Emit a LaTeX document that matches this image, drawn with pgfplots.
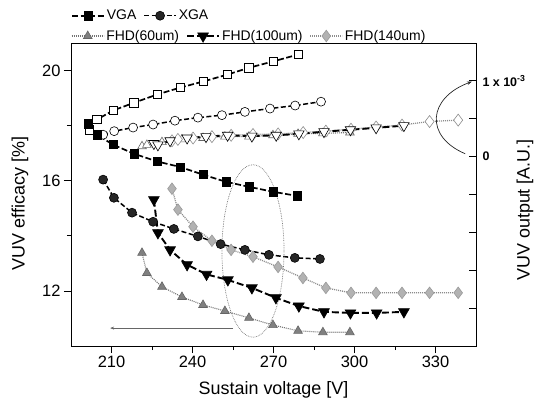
\documentclass[border=0pt]{standalone}
\usepackage{fontspec}
\setmainfont{Liberation Sans}
\usepackage{pgfplots}
\pgfplotsset{compat=1.18}
\usetikzlibrary{arrows.meta}

\pgfplotsset{
  vga/.style={black, line width=1.7bp, dash pattern=on 6bp off 2.5bp, mark=square*, mark size=4.1bp,
    mark options={solid, fill=black, draw=black, line width=0.6bp}},
  vgao/.style={black, line width=1.7bp, dash pattern=on 6bp off 2.5bp, mark=square*, mark size=4.1bp,
    mark options={solid, fill=white, draw=black, line width=0.7bp}},
  xga/.style={black, line width=1.5bp, dash pattern=on 5bp off 2.5bp, mark=*, mark size=4.5bp,
    mark options={solid, fill=black!85, draw=black, line width=0.6bp}},
  xgao/.style={black, line width=1.5bp, dash pattern=on 5bp off 2.5bp, mark=*, mark size=4.5bp,
    mark options={solid, fill=white, draw=black, line width=0.6bp}},
  fhdsixty/.style={black!55, line width=1.1bp, dash pattern=on 1bp off 1bp, mark=triangle*, mark size=5bp,
    mark options={solid, fill=black!50, draw=black!60, line width=0.6bp}},
  fhdsixtyo/.style={black!55, line width=1.1bp, dash pattern=on 1bp off 1bp, mark=triangle*, mark size=5bp,
    mark options={solid, fill=white, draw=black!60, line width=0.6bp}},
  fhdhund/.style={black, line width=1.9bp, dash pattern=on 7bp off 3bp, mark=triangle*, mark size=6.2bp,
    mark options={solid, rotate=180, fill=black, draw=black, line width=0.6bp}},
  fhdhundo/.style={black, line width=1.9bp, dash pattern=on 7bp off 3bp, mark=triangle*, mark size=6bp,
    mark options={solid, rotate=180, fill=white, draw=black, line width=0.6bp}},
  fhdforty/.style={black!45, line width=1.3bp, dash pattern=on 1bp off 1bp, mark=diamond*, mark size=5.8bp,
    mark options={solid, fill=black!30, draw=black!40, line width=0.6bp}},
  fhdfortyo/.style={black!45, line width=1.3bp, dash pattern=on 1bp off 1bp, mark=diamond*, mark size=6bp,
    mark options={solid, fill=white, draw=black!45, line width=0.6bp}},
  mylegend/.style={
    legend style={draw=none, fill=none, inner sep=0pt, anchor=west,
      font=\fontsize{14}{16}\selectfont,
      /tikz/every even column/.append style={column sep=5bp}},
    legend cell align=left,
    legend image code/.code={\draw[mark repeat=2,mark phase=2,##1] plot coordinates {(0bp,0bp) (16bp,0bp) (32bp,0bp)};}
  }
}

\begin{document}
\begin{tikzpicture}
\begin{axis}[
  at={(0,0)}, anchor=south west,
  scale only axis, width=405bp, height=303bp,
  xmin=195, xmax=345, ymin=10, ymax=21,
  xtick={210,240,...,330}, minor xtick={225,255,...,315},
  ytick={12,16,20}, minor ytick={14,18},
  xtick pos=left, ytick pos=left,
  tick align=outside,
  major tick length=7bp, minor tick length=4bp,
  every tick/.style={black, line width=0.8bp},
  axis line style={line width=0.9bp},
  tick label style={font=\fontsize{16.5}{19}\selectfont},
  /pgf/number format/assume math mode=true,
  xlabel={Sustain voltage [V]}, ylabel={VUV efficacy [\%]},
  label style={font=\fontsize{18}{21}\selectfont},
  xlabel style={at={(axis description cs:0.5,-0.145)}, anchor=center},
  ylabel style={at={(axis description cs:-0.126,0.47)}, anchor=center},
  mylegend,
  legend columns=3,
  legend style={at={(axis description cs:0.0,1.023)}},
]
% filled: VUV efficacy
\addplot[fhdsixty] coordinates {(221.3,13.38) (223.1,12.65) (228.7,12.15) (236.1,11.78) (243.9,11.49) (252,11.27) (260.9,11.02) (269.8,10.76) (279.1,10.55) (288.3,10.5) (298.3,10.5)};
\addlegendentry{FHD(60um)}
\addplot[fhdhund] coordinates {(225.7,15.31) (227.2,14.11) (231.7,13.49) (238,12.95) (245.2,12.6) (253.1,12.4) (262,12.11) (270.9,11.75) (279.4,11.45) (288.7,11.24) (298.5,11.2) (308.2,11.2) (318.3,11.24)};
\addlegendentry{FHD(100um)}
\addplot[fhdforty] coordinates {(232.4,15.71) (234.6,14.95) (240.2,14.33) (247.2,13.82) (254.3,13.49) (262.4,13.24) (271.7,12.87) (280.9,12.47) (289.4,12.11) (298.7,11.93) (308,11.93) (317.6,11.93) (327.8,11.93) (338.4,11.93)};
\addlegendentry{FHD(140um)}
% hollow: VUV output
\addplot[fhdsixtyo, forget plot] coordinates {(221.3,17.25) (223.1,17.3) (228.7,17.4) (236.1,17.5) (243.9,17.55) (252,17.6) (260.9,17.6) (269.8,17.65) (279.1,17.7) (288.3,17.72) (298.3,17.75)};
\addplot[fhdfortyo, forget plot] coordinates {(232.4,17.45) (234.6,17.5) (240.2,17.55) (247.2,17.6) (254.3,17.65) (262.4,17.68) (271.7,17.7) (281,17.75) (289.4,17.8) (298.7,17.87) (308,17.95) (317.6,18.02) (327.8,18.15) (338.4,18.2)};
\addplot[fhdhundo, forget plot] coordinates {(225.7,17.35) (227.2,17.3) (231.7,17.45) (238,17.55) (245,17.6) (253,17.65) (262,17.62) (271,17.65) (279.4,17.7) (288.7,17.78) (298.5,17.85) (308,17.92) (318.3,18.0)};
\addplot[xgao, forget plot] coordinates {(206.9,17.67) (211,17.8) (218,17.93) (225.4,18.04) (233.5,18.18) (242,18.29) (250.9,18.38) (259.4,18.5) (268.7,18.62) (278,18.73) (287.6,18.87)};
\addplot[vgao, forget plot] coordinates {(201.7,17.85) (204.6,18.22) (210.6,18.55) (218.3,18.83) (226.9,19.13) (235.4,19.38) (243.9,19.6) (252.8,19.85) (260.9,20.1) (269.8,20.33) (279.1,20.58)};
\addplot[xga, forget plot] coordinates {(206.9,16.04) (210.9,15.38) (217.6,14.84) (225.4,14.51) (233.1,14.25) (242,13.98) (250.4,13.7) (259.4,13.49) (268.3,13.31) (277.9,13.2) (287.2,13.16)};
\addplot[vga, forget plot] coordinates {(201.3,18.07) (204.6,17.67) (210.6,17.31) (218.3,16.98) (226.9,16.7) (235.4,16.5) (243.9,16.22) (252.4,15.96) (260.9,15.78) (269.8,15.6) (278.7,15.45)};
% annotations
\draw[black!55, densely dotted, line width=0.7bp] (axis cs:262.4,13.45) ellipse [x radius=11.5, y radius=3.13];
\draw[black!60, line width=0.6bp, -{Stealth[length=4bp,width=3bp]}] (axis cs:255,10.65) -- (axis cs:209.5,10.65);
\draw[black!85, line width=0.7bp, -{Stealth[length=5bp,width=3.5bp]}] (axis cs:341,16.98) .. controls (axis cs:326,17.6) and (axis cs:327,19.0) .. (axis cs:343.5,19.6);
\end{axis}

\begin{axis}[
  at={(0,0)}, anchor=south west,
  scale only axis, width=405bp, height=303bp,
  xmin=195, xmax=345, ymin=-2.5, ymax=1.5,
  axis x line=none, axis y line*=right,
  ytick={-2,-1.5,-1,-0.5,0,0.5,1},
  yticklabels={,,,,0,,{1 x 10\textsuperscript{-3}}},
  tick align=inside,
  major tick length=7bp,
  every tick/.style={black, line width=0.8bp},
  axis line style={line width=0.9bp},
  yticklabel style={font=\fontsize{12.5}{14}\bfseries\selectfont, xshift=3bp},
  ylabel={VUV output [A.U.]},
  ylabel style={at={(axis description cs:1.121,0.449)}, anchor=center, font=\fontsize{18}{21}\selectfont},
  mylegend,
  legend columns=2,
  legend style={at={(axis description cs:0.0,1.09)}},
]
\addlegendimage{vga}
\addlegendentry{VGA}
\addlegendimage{xga}
\addlegendentry{XGA}
\end{axis}
\pgfresetboundingbox
\path[use as bounding box] (-71bp,-57bp) rectangle (476bp,346bp);
\end{tikzpicture}
\end{document}
